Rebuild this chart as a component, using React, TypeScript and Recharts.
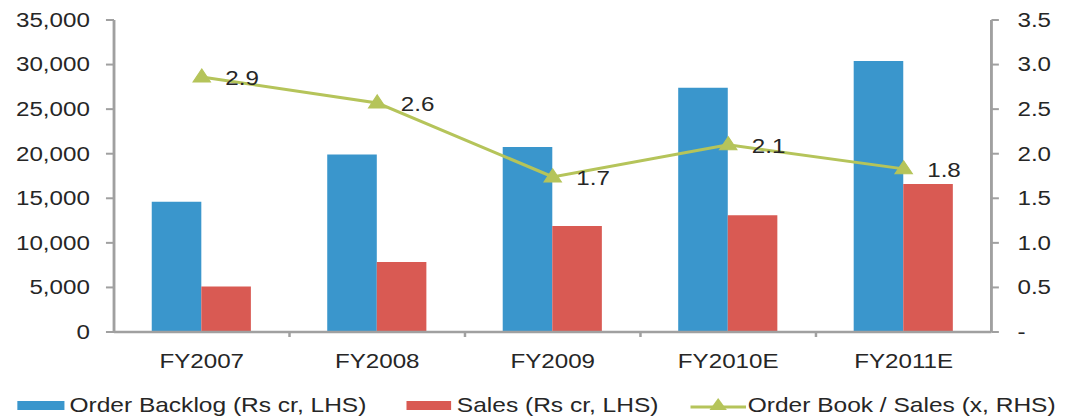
import React from 'react';
import { ComposedChart, Bar, Line, XAxis, YAxis, LabelList } from 'recharts';

const categories = ['FY2007', 'FY2008', 'FY2009', 'FY2010E', 'FY2011E'];
const orderBacklog = [14600, 19900, 20750, 27400, 30400];
const sales = [5100, 7850, 11900, 13100, 16600];
const orderBookToSales = [2.86, 2.57, 1.74, 2.1, 1.83];

const leftTicks = [0, 5000, 10000, 15000, 20000, 25000, 30000, 35000];
const rightTicks = [0, 0.5, 1, 1.5, 2, 2.5, 3, 3.5];

const BLUE = '#3a96cc';
const RED = '#d95a53';
const GREEN = '#b5c45a';
const AXIS = '#a0a0a0';
const TEXT = '#262626';
const FONT = '"Liberation Sans", Arial, sans-serif';
const FS = 19.5;

// the whole chart is drawn narrow and widened with scaleX
const W = 865;
const H = 417;
const SX = 1072 / W;

const data = categories.map((c, i) => ({
  name: c,
  backlog: orderBacklog[i],
  sales: sales[i],
  ratio: orderBookToSales[i],
}));

const CategoryTick = (props: any) => {
  const { x, y, payload, index, visibleTicksCount, width } = props;
  const half = width / visibleTicksCount / 2;
  return (
    <g>
      <text x={x} y={y + 36} textAnchor="middle" fill={TEXT} fontSize={FS} fontFamily={FONT}>
        {payload.value}
      </text>
      {index < visibleTicksCount - 1 && (
        <line x1={x + half} x2={x + half} y1={y} y2={y + 5} stroke={AXIS} strokeWidth={2} />
      )}
    </g>
  );
};

const Triangle = (props: any) => {
  const { cx, cy, index } = props;
  if (cx == null || cy == null) return <g key={index} />;
  return (
    <path
      key={index}
      d={`M${cx},${cy - 8} L${cx + 7},${cy + 5} L${cx - 7},${cy + 5} Z`}
      fill={GREEN}
      stroke={GREEN}
      strokeWidth={1}
    />
  );
};

const RatioLabel = (props: any) => {
  const { x, y, value } = props;
  return (
    <text x={x + 19} y={y + 8} fill={TEXT} fontSize={FS} fontFamily={FONT}>
      {Number(value).toFixed(1)}
    </text>
  );
};

const legendText: React.CSSProperties = { fontSize: 19.8, color: TEXT, whiteSpace: 'nowrap' };

const Legend = () => (
  <div
    style={{
      position: 'absolute',
      left: 14,
      top: 395,
      display: 'flex',
      alignItems: 'center',
      fontFamily: FONT,
      lineHeight: '20px',
    }}
  >
    <div style={{ display: 'flex', alignItems: 'center', marginRight: 32 }}>
      <div style={{ width: 38, height: 9, background: BLUE, marginRight: 4 }} />
      <span style={legendText}>Order Backlog (Rs cr, LHS)</span>
    </div>
    <div style={{ display: 'flex', alignItems: 'center', marginRight: 26 }}>
      <div style={{ width: 36, height: 9, background: RED, marginRight: 5 }} />
      <span style={legendText}>Sales (Rs cr, LHS)</span>
    </div>
    <div style={{ display: 'flex', alignItems: 'center' }}>
      <svg width={45} height={16} style={{ marginRight: 1 }}>
        <line x1={0} x2={45} y1={10} y2={10} stroke={GREEN} strokeWidth={3} />
        <path d="M22.5,1 L29.5,13 L15.5,13 Z" fill={GREEN} />
      </svg>
      <span style={legendText}>Order Book / Sales (x, RHS)</span>
    </div>
  </div>
);

export default function App() {
  return (
    <div style={{ position: 'absolute', left: 0, top: 0, width: 1072, height: H, background: '#fff', overflow: 'hidden' }}>
      <div
        style={{
          position: 'absolute',
          left: 0,
          top: 0,
          width: W,
          height: H,
          transform: `scaleX(${SX})`,
          transformOrigin: '0 0',
        }}
      >
        <ComposedChart
          width={W}
          height={H}
          data={data}
          margin={{ top: 20, right: 0, bottom: 45, left: 0 }}
          barCategoryGap="21.5%"
          barGap={0}
        >
          <XAxis
            dataKey="name"
            height={40}
            tickSize={0}
            tickMargin={0}
            tickLine={false}
            axisLine={{ stroke: AXIS, strokeWidth: 2.3 }}
            tick={<CategoryTick />}
            interval={0}
          />
          <YAxis
            yAxisId="left"
            width={92}
            domain={[0, 35000]}
            ticks={leftTicks}
            interval={0}
            tickSize={6.5}
            tickMargin={13}
            axisLine={{ stroke: AXIS, strokeWidth: 2.3 }}
            tickLine={{ stroke: AXIS, strokeWidth: 2 }}
            tick={{ fill: TEXT, fontSize: FS, fontFamily: FONT }}
            tickFormatter={(v: number) => v.toLocaleString('en-US')}
          />
          <YAxis
            yAxisId="right"
            orientation="right"
            width={65}
            domain={[0, 3.5]}
            ticks={rightTicks}
            interval={0}
            tickSize={6}
            tickMargin={15}
            axisLine={{ stroke: AXIS, strokeWidth: 2.3 }}
            tickLine={{ stroke: AXIS, strokeWidth: 2 }}
            tick={{ fill: TEXT, fontSize: FS, fontFamily: FONT }}
            tickFormatter={(v: number) => (v === 0 ? '-' : v.toFixed(1))}
          />
          <Bar yAxisId="left" dataKey="backlog" fill={BLUE} isAnimationActive={false} />
          <Bar yAxisId="left" dataKey="sales" fill={RED} isAnimationActive={false} />
          <Line
            yAxisId="right"
            dataKey="ratio"
            stroke={GREEN}
            strokeWidth={3}
            dot={(p: any) => <Triangle {...p} />}
            activeDot={false}
            isAnimationActive={false}
          >
            <LabelList dataKey="ratio" content={<RatioLabel />} />
          </Line>
        </ComposedChart>
        <Legend />
      </div>
    </div>
  );
}
